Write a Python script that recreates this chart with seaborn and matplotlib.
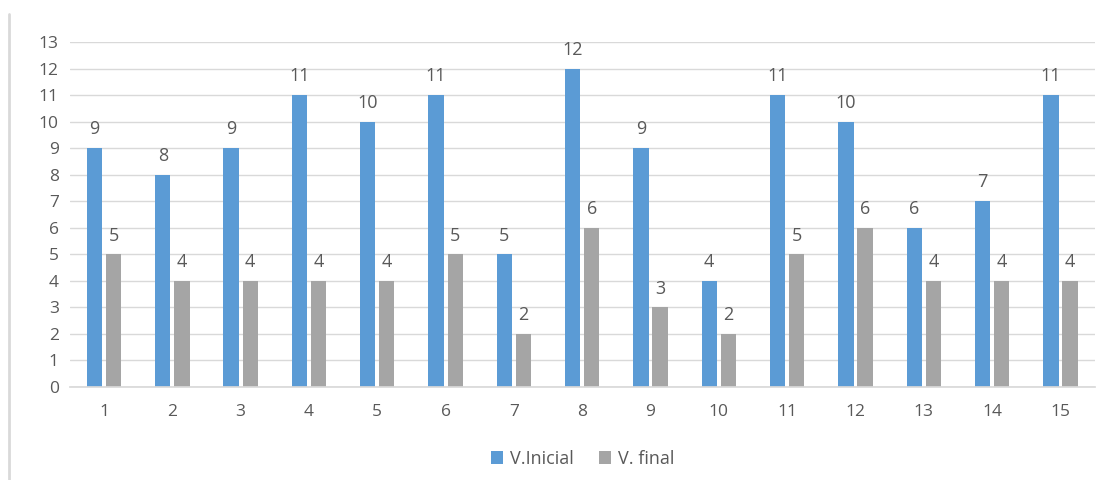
import matplotlib
matplotlib.use("Agg")
import matplotlib.pyplot as plt
import seaborn as sns
import pandas as pd
from matplotlib.lines import Line2D

categories = [str(i) for i in range(1, 16)]
v_inicial = [9, 8, 9, 11, 10, 11, 5, 12, 9, 4, 11, 10, 6, 7, 11]
v_final = [5, 4, 4, 4, 4, 5, 2, 6, 3, 2, 5, 6, 4, 4, 4]
series_names = ["V.Inicial", "V. final"]
y_ticks = list(range(0, 14))

df = pd.DataFrame({
    "cat": categories * 2,
    "val": v_inicial + v_final,
    "serie": [series_names[0]] * len(categories) + [series_names[1]] * len(categories),
})

sns.set_theme(style="white")
plt.rcParams["font.family"] = ["Open Sans", "DejaVu Sans"]
txt = "#595959"

fig = plt.figure(figsize=(11.09, 4.80), dpi=100)
ax = fig.add_axes([0.063, 0.194, 0.924, 0.7185])

sns.barplot(data=df, x="cat", y="val", hue="serie", order=categories,
            hue_order=series_names, palette=["#5B9BD5", "#A5A5A5"],
            width=0.56, gap=0.2, ax=ax, legend=True, saturation=1,
            linewidth=0)

for cont in ax.containers:
    ax.bar_label(cont, padding=7, fontsize=13, color=txt)

ax.set_ylim(0, 13)
ax.set_yticks(y_ticks)
ax.set_xlim(-0.5, len(categories) - 0.5)
ax.yaxis.grid(True, color="#D9D9D9", linewidth=1)
ax.set_axisbelow(True)
for s in ["top", "right", "left"]:
    ax.spines[s].set_visible(False)
ax.spines["bottom"].set_color("#D9D9D9")
ax.tick_params(axis="both", length=0, labelsize=12.5, colors=txt, pad=8)
ax.tick_params(axis="x", pad=12)
ax.set_xlabel("")
ax.set_ylabel("")

leg = ax.legend(loc="upper center", bbox_to_anchor=(0.5, -0.135), ncol=2,
                frameon=False, fontsize=13, handlelength=0.7, handleheight=0.7,
                handletextpad=0.35, columnspacing=1.4)
for t in leg.get_texts():
    t.set_color(txt)

fig.add_artist(Line2D([0.0081, 0.0081], [0.0, 0.97], color="#D9D9D9", linewidth=2,
                      transform=fig.transFigure))

fig.savefig("out.png", dpi=100, facecolor="white")
